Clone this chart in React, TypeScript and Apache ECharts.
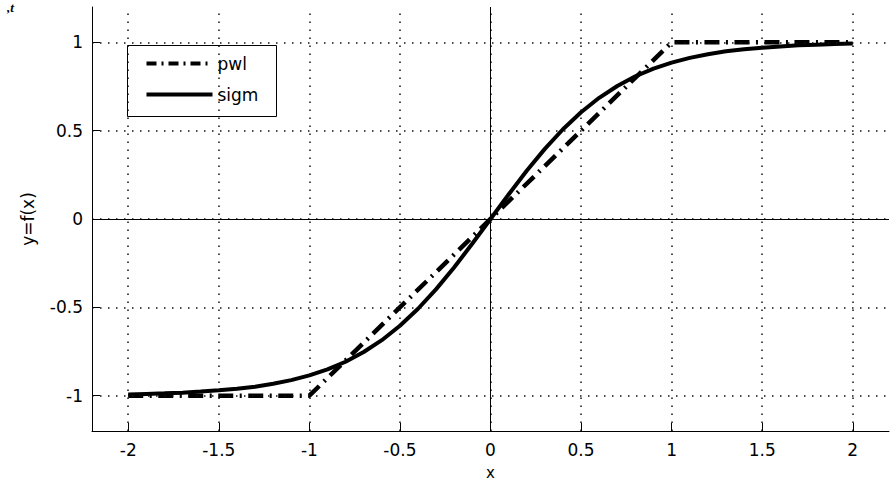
import React, { useEffect, useRef } from "react";
import * as echarts from "echarts";

const xValues = [
  -2, -1.9, -1.8, -1.7, -1.6, -1.5, -1.4, -1.3, -1.2, -1.1, -1, -0.9, -0.8, -0.7, -0.6, -0.5, -0.4, -0.3, -0.2, -0.1,
  0, 0.1, 0.2, 0.3, 0.4, 0.5, 0.6, 0.7, 0.8, 0.9, 1, 1.1, 1.2, 1.3, 1.4, 1.5, 1.6, 1.7, 1.8, 1.9, 2,
];
const sigmValues = [
  -0.993, -0.99, -0.987, -0.983, -0.977, -0.97, -0.961, -0.949, -0.933, -0.912, -0.885, -0.851, -0.808, -0.753, -0.686,
  -0.604, -0.508, -0.397, -0.273, -0.139, 0, 0.139, 0.273, 0.397, 0.508, 0.604, 0.686, 0.753, 0.808, 0.851, 0.885,
  0.912, 0.933, 0.949, 0.961, 0.97, 0.977, 0.983, 0.987, 0.99, 0.993,
];
const pwlX = [-2, -1, 1, 2];
const pwlY = [-1, -1, 1, 1];
const xTicks = [-2, -1.5, -1, -0.5, 0, 0.5, 1, 1.5, 2];
const yTicks = [-1, -0.5, 0, 0.5, 1];
const seriesNames = ["pwl", "sigm"];

const FONT = "DejaVu Sans";
const FS = 17;
const PWL_DASH = [15, 6.5, 2, 6.5];

export default function App() {
  const ref = useRef<HTMLDivElement>(null);
  useEffect(() => {
    if (!ref.current) return;
    const chart = echarts.init(ref.current, undefined, { renderer: "svg" });
    const gridDash = {
      color: "#111",
      width: 1.5,
      type: [1.5, 6.5] as number[],
    };
    const legendX = 127.5;
    const legendY = 45.5;
    const option: any = {
      animation: false,
      backgroundColor: "#fff",
      textStyle: { fontFamily: FONT },
      grid: { left: 92, right: 7, top: 7, bottom: 54, containLabel: false, outerBoundsMode: "none" },
      xAxis: {
        type: "value",
        min: -2.2,
        max: 2.2,
        name: "x",
        nameLocation: "middle",
        nameGap: 34,
        nameTextStyle: { color: "#000", fontSize: 15, fontFamily: FONT, lineHeight: 16 },
        axisLine: { onZero: false, lineStyle: { color: "#000", width: 1 } },
        axisTick: { inside: true, length: 8, customValues: xTicks, lineStyle: { color: "#000", width: 1 } },
        axisLabel: {
          customValues: xTicks,
          color: "#000",
          fontSize: FS,
          fontFamily: FONT,
          margin: 10,
          showMinLabel: true,
          showMaxLabel: true,
        },
        splitLine: { show: false },
      },
      yAxis: {
        type: "value",
        min: -1.2,
        max: 1.2,
        name: "y=f(x)",
        nameLocation: "middle",
        nameGap: 56,
        nameTextStyle: { color: "#000", fontSize: FS, fontFamily: FONT },
        axisLine: { onZero: false, lineStyle: { color: "#000", width: 1 } },
        axisTick: { inside: true, length: 8, customValues: yTicks, lineStyle: { color: "#000", width: 1 } },
        axisLabel: {
          customValues: yTicks,
          color: "#000",
          fontSize: FS,
          fontFamily: FONT,
          margin: 9,
        },
        splitLine: { show: false },
      },
      legend: { show: false },
      graphic: [
        {
          type: "text",
          left: 7,
          top: 1,
          style: { text: ",t", font: "italic bold 13px serif", fill: "#000" },
        },
        {
          type: "group",
          z: 100,
          children: [
            {
              type: "rect",
              shape: { x: legendX, y: legendY, width: 149, height: 71 },
              style: { fill: "#fff", stroke: "#000", lineWidth: 1 },
            },
            {
              type: "line",
              shape: { x1: legendX + 19, y1: legendY + 18, x2: legendX + 85, y2: legendY + 18 },
              style: { stroke: "#000", lineWidth: 4, lineDash: [10, 5, 2, 5] },
            },
            {
              type: "line",
              shape: { x1: legendX + 19, y1: legendY + 49, x2: legendX + 85, y2: legendY + 49 },
              style: { stroke: "#000", lineWidth: 4 },
            },
            {
              type: "text",
              x: legendX + 90,
              y: legendY + 18,
              style: { text: seriesNames[0], font: `${FS}px "${FONT}"`, fill: "#000", verticalAlign: "middle" },
            },
            {
              type: "text",
              x: legendX + 90,
              y: legendY + 49,
              style: { text: seriesNames[1], font: `${FS}px "${FONT}"`, fill: "#000", verticalAlign: "middle" },
            },
          ],
        },
      ],
      series: [
        {
          name: "grid",
          type: "line",
          data: [],
          z: 1,
          silent: true,
          markLine: {
            silent: true,
            symbol: "none",
            label: { show: false },
            lineStyle: gridDash,
            data: [
              ...xTicks.map((v) => ({ xAxis: v })),
              ...yTicks.map((v) => ({ yAxis: v })),
            ],
          },
        },
        {
          name: "zero",
          type: "line",
          data: [],
          z: 1,
          silent: true,
          markLine: {
            silent: true,
            symbol: "none",
            label: { show: false },
            lineStyle: { color: "#000", width: 1, type: "solid" },
            data: [{ xAxis: 0 }, { yAxis: 0 }],
          },
        },
        {
          name: seriesNames[0],
          type: "line",
          z: 3,
          symbol: "none",
          data: pwlX.map((x, i) => [x, pwlY[i]]),
          lineStyle: { color: "#000", width: 4.5, type: PWL_DASH, cap: "butt" },
          itemStyle: { color: "#000" },
        },
        {
          name: seriesNames[1],
          type: "line",
          z: 4,
          symbol: "none",
          data: xValues.map((x, i) => [x, sigmValues[i]]),
          lineStyle: { color: "#000", width: 4, type: "solid" },
          itemStyle: { color: "#000" },
        },
      ],
    };
    chart.setOption(option);
    return () => chart.dispose();
  }, []);
  return (
    <div
      ref={ref}
      style={{ position: "fixed", left: 0, top: 0, width: 896, height: 485, background: "#fff" }}
    />
  );
}
